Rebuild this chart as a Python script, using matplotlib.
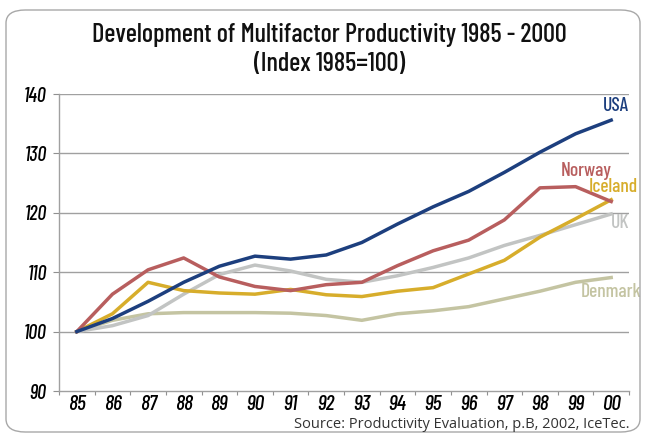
import matplotlib
matplotlib.use("Agg")
import matplotlib.pyplot as plt
from matplotlib.patches import FancyBboxPatch

# data
years = ["85", "86", "87", "88", "89", "90", "91", "92",
         "93", "94", "95", "96", "97", "98", "99", "00"]
usa = [100, 102.2, 105.1, 108.3, 111.0, 112.7, 112.2, 112.9,
       115.0, 118.1, 121.0, 123.6, 126.8, 130.2, 133.3, 135.6]
norway = [100, 106.3, 110.4, 112.4, 109.2, 107.6, 106.9, 107.9,
          108.3, 111.1, 113.6, 115.4, 118.8, 124.2, 124.4, 121.9]
iceland = [100, 103.0, 108.3, 106.9, 106.5, 106.3, 107.1, 106.2,
           105.9, 106.8, 107.4, 109.7, 112.0, 115.9, 119.0, 122.2]
uk = [100, 101.0, 102.7, 106.3, 109.6, 111.2, 110.2, 108.8,
      108.3, 109.4, 110.8, 112.4, 114.5, 116.2, 118.0, 119.8]
denmark = [100, 101.9, 103.0, 103.2, 103.2, 103.2, 103.1, 102.7,
           101.9, 103.0, 103.5, 104.2, 105.5, 106.8, 108.3, 109.1]
yticks = [90, 100, 110, 120, 130, 140]

c_usa = "#1d3f7e"
c_nor = "#b85e5e"
c_ice = "#d7ad2b"
c_uk = "#c2c4c3"
c_den = "#c4c4a2"

cond = dict(family=["Barlow Condensed", "DejaVu Sans"])

fig = plt.figure(figsize=(6.46, 4.36), dpi=100)
ax = fig.add_axes([59 / 646, 1 - 391 / 436, 570 / 646, 297 / 436])

# rounded frame around everything
frame = FancyBboxPatch((6 / 646, 4 / 436), 634 / 646, 422 / 436,
                       boxstyle="round,pad=0,rounding_size=0.03",
                       transform=fig.transFigure, fill=False,
                       edgecolor="#a8a8a8", linewidth=1.0)
fig.patches.append(frame)

x = list(range(len(years)))
lw = 2.5
ax.plot(x, denmark, color=c_den, lw=lw)
ax.plot(x, uk, color=c_uk, lw=lw)
ax.plot(x, iceland, color=c_ice, lw=lw)
ax.plot(x, norway, color=c_nor, lw=lw)
ax.plot(x, usa, color=c_usa, lw=lw)

ax.set_xlim(-0.5, len(years) - 0.5)
ax.set_ylim(90, 140)
ax.set_yticks(yticks)
ax.set_yticklabels([str(v) for v in yticks], style="italic", weight=500,
                   fontsize=14.5, **cond)
ax.set_xticks(x)
ax.set_xticklabels(years, style="italic", weight=500, fontsize=15.5, **cond)
ax.set_xticks([i - 0.5 for i in range(len(years) + 1)], minor=True)
ax.tick_params(axis="x", which="major", length=0, pad=3)
ax.tick_params(axis="x", which="minor", length=3, color="#909090", width=0.8)
ax.tick_params(axis="y", length=4, color="#909090", width=0.8, pad=5)

for v in yticks[1:]:
    ax.axhline(v, color="#a0a0a0", lw=1.0, zorder=0)
for s in ["top", "right"]:
    ax.spines[s].set_visible(False)
for s in ["left", "bottom"]:
    ax.spines[s].set_color("#a0a0a0")
    ax.spines[s].set_linewidth(1.0)

# series labels at right
lbl = dict(fontsize=14, weight=500, ha="right", va="center", **cond)
ax.text(15.5, 138.0, "USA", color=c_usa, **lbl)
ax.text(15.0, 127.0, "Norway", color=c_nor, **lbl)
ax.text(15.75, 124.4, "Iceland", color=c_ice, **lbl)
ax.text(15.5, 118.2, "UK", color=c_uk, **lbl)
ax.text(15.85, 106.7, "Denmark", color=c_den, **lbl)

fig.text(0.51, 1 - 35 / 436, "Development of Multifactor Productivity 1985 - 2000",
         ha="center", va="center", fontsize=19, weight=500, color="#111111", **cond)
fig.text(0.51, 1 - 64 / 436, "(Index 1985=100)",
         ha="center", va="center", fontsize=19, weight=500, color="#111111", **cond)
fig.text(630 / 646, 1 - 424 / 436, "Source: Productivity Evaluation, p.B, 2002, IceTec.",
         ha="right", va="center", fontsize=10.5, color="#333333", family="Open Sans")

fig.savefig("out.png", dpi=100)
